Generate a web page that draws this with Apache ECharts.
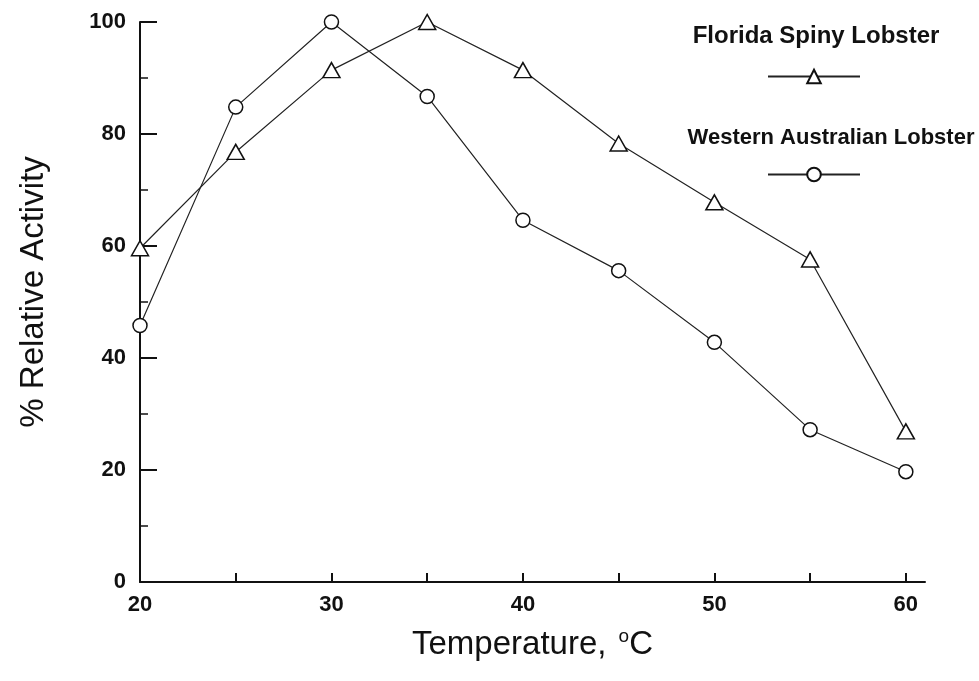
<!DOCTYPE html>
<html>
<head>
<meta charset="utf-8">
<script src="https://cdn.jsdelivr.net/npm/echarts@6/dist/echarts.min.js"></script>
<style>
  html, body { margin: 0; padding: 0; background: #fff; }
  #chart { width: 979px; height: 681px; }
</style>
</head>
<body>
<div id="chart"></div>
<script>
// temperature, °C
const temps = [20, 25, 30, 35, 40, 45, 50, 55, 60];
// % relative activity
const floridaSpiny = [59.6, 76.8, 91.4, 100, 91.4, 78.3, 67.8, 57.6, 26.9];
const westernAustralian = [45.8, 84.8, 100, 86.7, 64.6, 55.6, 42.8, 27.2, 19.7];
const xLabels = [20, 30, 40, 50, 60];
const xTicks = [20, 25, 30, 35, 40, 45, 50, 55, 60];
const yLabels = [0, 20, 40, 60, 80, 100];

const seriesNames = ['Florida Spiny Lobster', 'Western Australian Lobster'];
const font = 'Liberation Sans, Arial, sans-serif';

const chart = echarts.init(document.getElementById('chart'));

const pairs = arr => temps.map((t, i) => [t, arr[i]]);

const options = {
  animation: false,
  backgroundColor: '#fff',
  grid: { left: 140, right: 54, top: 22, bottom: 99 },
  title: [
    {
      text: seriesNames[0], left: 811, top: 19, textAlign: 'center',
      textStyle: { fontFamily: font, fontSize: 24, fontWeight: 'bold', color: '#111' }
    },
    {
      text: seriesNames[1], left: 826, top: 122, textAlign: 'center',
      textStyle: { fontFamily: font, fontSize: 22, fontWeight: 'bold', color: '#111' }
    }
  ],
  legend: [
    {
      data: [seriesNames[0]], left: 762, top: 63, itemWidth: 92, itemHeight: 17,
      formatter: () => '', selectedMode: false, itemGap: 0
    },
    {
      data: [seriesNames[1]], left: 762, top: 161, itemWidth: 92, itemHeight: 17,
      formatter: () => '', selectedMode: false, itemGap: 0
    }
  ],
  xAxis: {
    type: 'value',
    min: 20,
    max: 61,
    interval: 5,
    name: 'Temperature, {sup|o}C',
    nameLocation: 'middle',
    nameGap: 45,
    nameTextStyle: {
      fontFamily: font, fontSize: 33, color: '#111', verticalAlign: 'top',
      rich: { sup: { fontFamily: font, fontSize: 19, color: '#111', verticalAlign: 'top', padding: [0, 0, 16, 3] } }
    },
    axisLine: { lineStyle: { color: '#111', width: 2 } },
    axisTick: { inside: true, length: 9, customValues: xTicks, lineStyle: { color: '#111', width: 2 } },
    axisLabel: {
      customValues: xLabels, margin: 12,
      fontFamily: font, fontSize: 22, fontWeight: 'bold', color: '#111'
    },
    splitLine: { show: false }
  },
  yAxis: {
    type: 'value',
    min: 0,
    max: 100,
    interval: 20,
    name: '% Relative Activity',
    nameLocation: 'middle',
    nameGap: 90,
    nameTextStyle: { fontFamily: font, fontSize: 33, color: '#111', padding: [0, 0, 0, 20] },
    axisLine: { lineStyle: { color: '#111', width: 2 } },
    axisTick: { inside: true, length: 17, lineStyle: { color: '#111', width: 2 } },
    minorTick: { show: true, splitNumber: 2, length: 8, lineStyle: { color: '#111', width: 1.5 } },
    axisLabel: {
      customValues: yLabels, margin: 14,
      fontFamily: font, fontSize: 22, fontWeight: 'bold', color: '#111'
    },
    splitLine: { show: false }
  },
  series: [
    {
      name: seriesNames[0],
      type: 'line',
      data: pairs(floridaSpiny),
      symbol: 'triangle',
      symbolSize: [17, 15],
      lineStyle: { color: '#222', width: 1.2 },
      itemStyle: { color: '#fff', borderColor: '#111', borderWidth: 1.5 },
      z: 3
    },
    {
      name: seriesNames[1],
      type: 'line',
      data: pairs(westernAustralian),
      symbol: 'circle',
      symbolSize: 14,
      lineStyle: { color: '#222', width: 1.2 },
      itemStyle: { color: '#fff', borderColor: '#111', borderWidth: 1.5 },
      z: 3
    }
  ]
};

chart.setOption(options);
</script>
</body>
</html>
